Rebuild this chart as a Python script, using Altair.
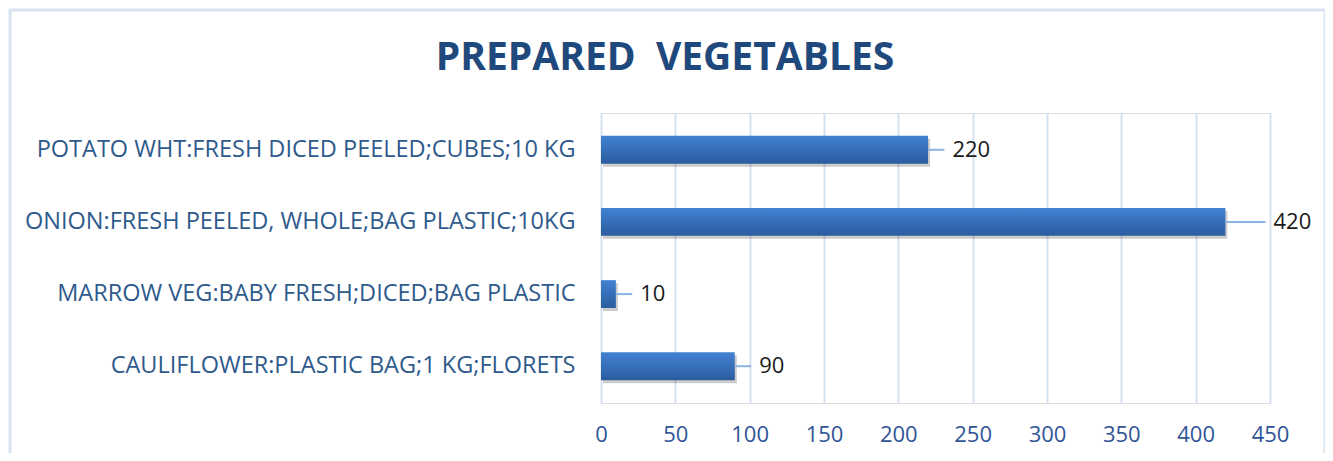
import altair as alt
import pandas as pd

categories = [
    "POTATO WHT:FRESH DICED PEELED;CUBES;10 KG",
    "ONION:FRESH PEELED, WHOLE;BAG PLASTIC;10KG",
    "MARROW VEG:BABY FRESH;DICED;BAG PLASTIC",
    "CAULIFLOWER:PLASTIC BAG;1 KG;FLORETS",
]
values = [220, 420, 10, 90]
x_ticks = [0, 50, 100, 150, 200, 250, 300, 350, 400, 450]
title_text = "PREPARED\u00a0 VEGETABLES"

df = pd.DataFrame({"item": categories, "value": values})

W, H = 669, 290

y_enc = alt.Y(
    "item:N",
    sort=categories,
    scale=alt.Scale(paddingInner=0.614, paddingOuter=0.317),
    axis=alt.Axis(
        title=None, domain=False, ticks=False, grid=False,
        labelFont="Open Sans", labelFontSize=23.5, labelColor="#2E5A8C",
        labelPadding=26, labelLimit=600,
    ),
)
x_scale = alt.Scale(domain=[0, 450], nice=False)
x_axis = alt.Axis(
    title=None, values=x_ticks, domain=False, ticks=False, grid=True,
    gridColor="#D3E1F2", gridWidth=2, labelFlush=False,
    labelFont="Open Sans", labelFontSize=22, labelColor="#2F5597",
    labelPadding=21,
)

base = alt.Chart(df)

shadow = base.mark_bar(color="#000000", opacity=0.2, xOffset=2, yOffset=3).encode(
    x=alt.X("value:Q", scale=x_scale, axis=x_axis), y=y_enc
)

bars = base.mark_bar(
    color=alt.LinearGradient(
        gradient="linear", x1=0, y1=0, x2=0, y2=1,
        stops=[alt.GradientStop(offset=0, color="#4282D3"),
               alt.GradientStop(offset=1, color="#2B5C9E")],
    )
).encode(x=alt.X("value:Q", scale=x_scale, axis=x_axis), y=y_enc)

lead_expr = "datum.value + (datum.value > 400 ? 27 : 11)"

leader = base.transform_calculate(lead_end=lead_expr).mark_rule(
    color="#8DB3E2", strokeWidth=2
).encode(
    x=alt.X("value:Q", scale=x_scale), x2="lead_end:Q", y=alt.Y("item:N", sort=categories)
)

labels = base.transform_calculate(lead_end=lead_expr).mark_text(
    align="left", baseline="middle", dx=8, font="Open Sans", fontSize=22, color="#1A1A1A"
).encode(
    x=alt.X("lead_end:Q", scale=x_scale), y=alt.Y("item:N", sort=categories), text="value:Q"
)

border = alt.Chart(pd.DataFrame({"a": [0]})).mark_rect(
    fill=None, stroke="#D9E4F2", strokeWidth=3
).encode(
    x=alt.value(-591), x2=alt.value(724), y=alt.value(-103), y2=alt.value(400)
)

title = alt.Chart(pd.DataFrame({"t": [title_text]})).mark_text(
    font="Open Sans", fontSize=39, fontWeight="bold", color="#1F497D",
    align="center", baseline="alphabetic",
).encode(x=alt.value(64), y=alt.value(-43), text="t:N")

chart = alt.layer(border, title, shadow, bars, leader, labels).properties(
    width=W, height=H,
    autosize=alt.AutoSizeParams(type="none"),
    padding={"left": 593, "top": 105, "right": 55, "bottom": 50},
).configure_view(stroke=None).configure(background="white")

chart.save("out.html", embed_options={"renderer": "svg", "actions": False})
